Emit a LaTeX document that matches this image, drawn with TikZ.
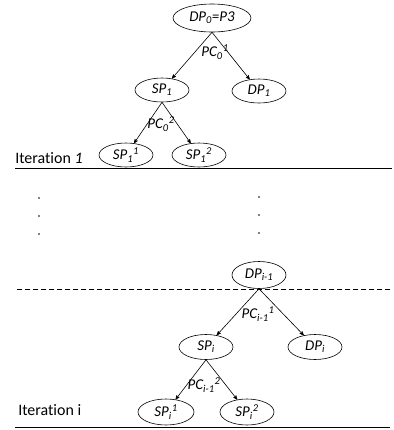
\documentclass[tikz,border=0pt]{standalone}
\usepackage{fontspec}
\setmainfont{Carlito}[Ligatures=CommonOff]
\usetikzlibrary{arrows,shapes.geometric,positioning}

\begin{document}
\begin{tikzpicture}[x=1bp,y=-1bp,->,>=stealth',line width=0.6pt,
  tree node/.style={ellipse,draw,inner sep=0pt,minimum width=54bp,
  minimum height=24bp,font=\fontsize{15}{18}\selectfont\itshape},
  pc label/.style={font=\fontsize{15}{18}\selectfont\itshape,inner sep=1pt},
  iter label/.style={font=\fontsize{16}{19}\selectfont,anchor=base west,
  inner sep=0pt}]

  \useasboundingbox (0,0) rectangle (394,430);

  % iteration 1
  \node[tree node,minimum width=78bp,minimum height=28bp] (DP0) at (212,18) {DP\textsubscript{0}=P3};
  \node[tree node] (SP1) at (162,90) {SP\textsubscript{1}};
  \node[tree node] (DP1) at (259,91) {DP\textsubscript{1}};
  \node[tree node] (SP11) at (126,155) {SP\textsubscript{1}\textsuperscript{1}};
  \node[tree node] (SP12) at (199,155) {SP\textsubscript{1}\textsuperscript{2}};

  \draw (DP0.south) -- (SP1);
  \draw (DP0.south) -- (DP1);
  \draw (SP1.south) -- (SP11);
  \draw (SP1.south) -- (SP12);

  \node[pc label] (PC01) at (215,52) {PC\textsubscript{0}\textsuperscript{1}};
  \node[pc label] (PC02) at (161,124) {PC\textsubscript{0}\textsuperscript{2}};

  \node[iter label] (It1) at (15,163) {Iteration \textit{1}};
  \draw[-] (15,168) -- (392,168);

  % dots
  \foreach \y in {198,216,234} {
    \fill (39,\y) circle (0.9);
    \fill (259,\y-1) circle (0.9);
  }

  % iteration i
  \node[tree node,minimum height=27bp] (DPi1) at (259,275) {DP\textsubscript{i-1}};
  \draw[-,dashed,dash pattern=on 5bp off 3bp] (17,289) -- (390,289);
  \node[tree node,minimum height=25bp] (SPi) at (206,347) {SP\textsubscript{i}};
  \node[tree node,minimum height=25bp] (DPi) at (315,347) {DP\textsubscript{i}};
  \node[tree node,minimum width=56bp,minimum height=26bp] (SPi1) at (166,412) {SP\textsubscript{i}\textsuperscript{1}};
  \node[tree node,minimum height=26bp] (SPi2) at (247,412) {SP\textsubscript{i}\textsuperscript{2}};

  \draw (DPi1.south) -- (SPi);
  \draw (DPi1.south) -- (DPi);
  \draw (SPi.south) -- (SPi1);
  \draw (SPi.south) -- (SPi2);

  \node[pc label] (PCi1) at (258,314) {PC\textsubscript{i-1}\textsuperscript{1}};
  \node[pc label] (PCi2) at (204,385) {PC\textsubscript{i-1}\textsuperscript{2}};

  \node[iter label] (Iti) at (18,415) {Iteration i};
  \draw[-] (15,427) -- (390,427);
\end{tikzpicture}
\end{document}
